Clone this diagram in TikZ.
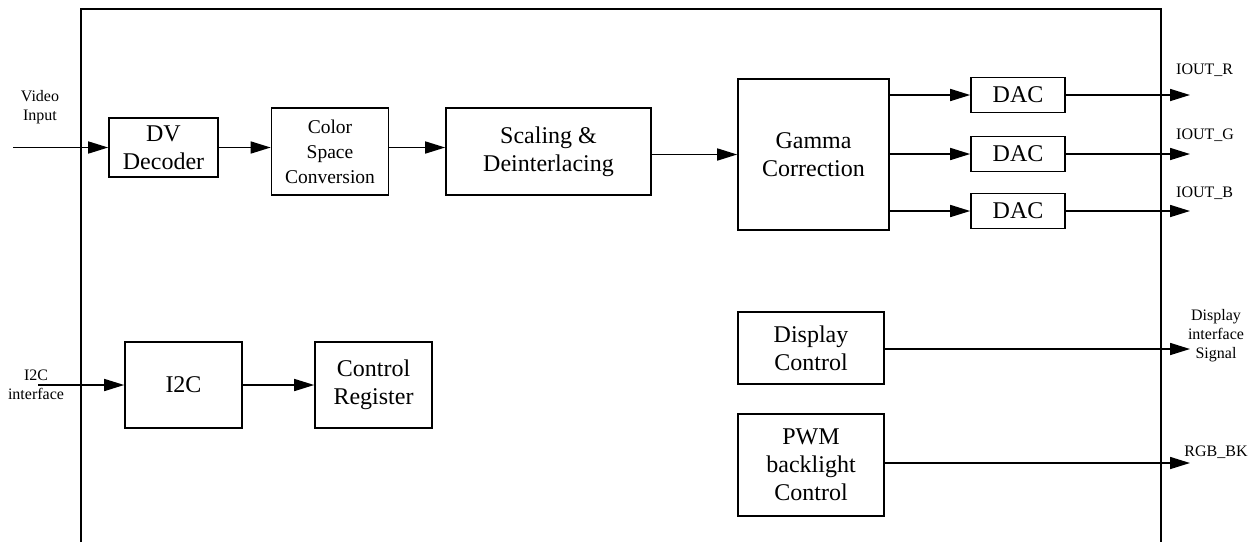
\documentclass[tikz,border=0pt]{standalone}
\usepackage{fontspec}
\setmainfont{Liberation Serif}
\usetikzlibrary{arrows.meta}

\begin{document}
\begin{tikzpicture}[x=1pt,y=-1pt,
	blk/.style={draw,line width=1.6pt,inner sep=0pt,align=center,font=\fontsize{24}{28}\selectfont},
	sig/.style={line width=1.6pt,-{Triangle[length=20pt,width=12pt]}},
	lbl/.style={align=center,inner sep=0pt,font=\fontsize{16}{19}\selectfont}]
				\useasboundingbox (0,0) rectangle (1257,542);
				\draw[line width=1.6pt] (81,542) -- (81,9) -- (1161,9) -- (1161,542);
				% video path
				\node[blk,minimum width=109pt,minimum height=59pt] (dv) at (163.5,147.5) {DV\\Decoder};
				\node[blk,minimum width=117pt,minimum height=87pt,font=\fontsize{19.5}{25}\selectfont] (csc) at (330,151.5) {Color\\Space\\Conversion};
				\node[blk,minimum width=205pt,minimum height=87pt] (scal) at (548.5,151.5) {Scaling \&\\Deinterlacing};
				\node[blk,minimum width=151pt,minimum height=151pt] (gamma) at (813.5,154.5) {Gamma\\Correction};
				\node[blk,minimum width=94pt,minimum height=35pt] (dacR) at (1018,95) {DAC};
				\node[blk,minimum width=94pt,minimum height=35pt] (dacG) at (1018,154) {DAC};
				\node[blk,minimum width=94pt,minimum height=35pt] (dacB) at (1018,211) {DAC};
				% control path
				\node[blk,minimum width=117pt,minimum height=86pt] (i2c) at (183.5,385) {I2C};
				\node[blk,minimum width=117pt,minimum height=86pt] (creg) at (373.5,385) {Control\\Register};
				\node[blk,minimum width=146pt,minimum height=72pt] (disp) at (811,348) {Display\\Control};
				\node[blk,minimum width=146pt,minimum height=102pt] (pwm) at (811,465) {PWM\\backlight\\Control};
				% pins
				\coordinate (vin) at (13,147.5);
				\coordinate (iin) at (38,385);
				\coordinate (outR) at (1190,95);
				\coordinate (outG) at (1190,154);
				\coordinate (outB) at (1190,211);
				\coordinate (outD) at (1190,349);
				\coordinate (outP) at (1190,463);
				\path (40,107) node[lbl] {Video\\Input}
				(36,385) node[lbl] {I2C\\interface}
				(1176,70) node[lbl,anchor=west] {IOUT\_R}
				(1176,135) node[lbl,anchor=west] {IOUT\_G}
				(1176,193) node[lbl,anchor=west] {IOUT\_B}
				(1216,336) node[lbl] {Display\\interface\\Signal}
				(1216,452) node[lbl] {RGB\_BK};
				\draw[sig] (vin) -- (dv.west);
				\draw[sig] (dv.east) -- (dv.east -| csc.west);
				\draw[sig] (csc.east |- dv.east) -- (scal.west |- dv.east);
				\draw[sig] (scal.east |- gamma) -- (gamma.west);
				\draw[sig] (gamma.east |- dacR) -- (dacR.west);
				\draw[sig] (gamma.east |- dacG) -- (dacG.west);
				\draw[sig] (gamma.east |- dacB) -- (dacB.west);
				\draw[sig] (dacR.east) -- (outR);
				\draw[sig] (dacG.east) -- (outG);
				\draw[sig] (dacB.east) -- (outB);
				\draw[sig] (iin) -- (i2c.west);
				\draw[sig] (i2c) -- (creg);
				\draw[sig] (disp.east |- outD) -- (outD);
				\draw[sig] (pwm.east |- outP) -- (outP);
			\end{tikzpicture}
\end{document}
